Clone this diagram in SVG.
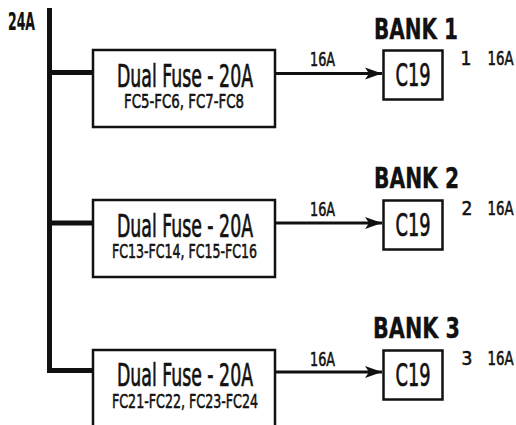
<svg xmlns="http://www.w3.org/2000/svg" width="516" height="425" viewBox="0 0 516 425">
<defs>
<style>
text{font-family:"Liberation Sans Narrow","DejaVu Sans Condensed","Liberation Sans",Arial,sans-serif;fill:#111;stroke:#111;stroke-width:0.55}
.box{fill:#fff;stroke:#111;stroke-width:2.5}
.t1{font-size:32px;text-anchor:middle;stroke-width:0.7}
.t2{font-size:20px;text-anchor:middle}
.bank{font-size:29px;font-weight:bold;stroke-width:0.3}
.c19{font-size:32px;stroke-width:0.7}
.lbl{font-size:19px}
.end{text-anchor:end}
.src{font-size:24px;font-weight:bold;stroke-width:0.2}
.bus{fill:none;stroke:#111;stroke-width:5;stroke-linejoin:miter}
.arr{fill:none;stroke:#111;stroke-width:3}
</style>
<marker id="ah" markerUnits="userSpaceOnUse" markerWidth="20" markerHeight="16" refX="17" refY="7" orient="auto">
<path d="M0,1 L17,7 L0,13 L4,7 Z" fill="#111"/>
</marker>
</defs>
<rect width="516" height="425" fill="#fff"/>
<g id="connectors">
<path class="bus" d="M49.5,8 V370.5 H93"/>
<path class="bus" d="M49.5,72.5 H93"/>
<path class="bus" d="M49.5,223 H93"/>
<path class="arr" d="M275,73.5 H382" marker-end="url(#ah)"/>
<path class="arr" d="M275,223 H382" marker-end="url(#ah)"/>
<path class="arr" d="M275,372 H382" marker-end="url(#ah)"/>
<text class="lbl" x="310" y="65.5" textLength="25" lengthAdjust="spacingAndGlyphs">16A</text>
<text class="lbl" x="310" y="216" textLength="25" lengthAdjust="spacingAndGlyphs">16A</text>
<text class="lbl" x="310" y="365.5" textLength="25" lengthAdjust="spacingAndGlyphs">16A</text>
</g>
<g id="source">
<text class="src" x="8" y="30" textLength="27" lengthAdjust="spacingAndGlyphs">24A</text>
</g>
<g id="fuse1">
<rect class="box" x="93" y="50" width="182" height="77"/>
<text class="t1" x="185" y="86.5" textLength="136" lengthAdjust="spacingAndGlyphs">Dual Fuse - 20A</text>
<text class="t2" x="184" y="107.5" textLength="120" lengthAdjust="spacingAndGlyphs">FC5-FC6, FC7-FC8</text>
</g>
<g id="fuse2">
<rect class="box" x="93" y="200" width="182" height="77"/>
<text class="t1" x="185" y="236.5" textLength="136" lengthAdjust="spacingAndGlyphs">Dual Fuse - 20A</text>
<text class="t2" x="184.5" y="257.5" textLength="145" lengthAdjust="spacingAndGlyphs">FC13-FC14, FC15-FC16</text>
</g>
<g id="fuse3">
<rect class="box" x="93" y="350" width="182" height="80"/>
<text class="t1" x="185" y="386" textLength="136" lengthAdjust="spacingAndGlyphs">Dual Fuse - 20A</text>
<text class="t2" x="185" y="407.5" textLength="146" lengthAdjust="spacingAndGlyphs">FC21-FC22, FC23-FC24</text>
</g>
<g id="bank1">
<text class="bank" x="374" y="39" textLength="84" lengthAdjust="spacingAndGlyphs">BANK 1</text>
<rect class="box" x="383.5" y="50.5" width="59" height="49"/>
<text class="c19" x="395.5" y="85.5" textLength="35" lengthAdjust="spacingAndGlyphs">C19</text>
<text class="lbl" x="460.5" y="65">1</text>
<text class="lbl end" x="513.5" y="65" textLength="26" lengthAdjust="spacingAndGlyphs">16A</text>
</g>
<g id="bank2">
<text class="bank" x="374" y="188" textLength="85" lengthAdjust="spacingAndGlyphs">BANK 2</text>
<rect class="box" x="383.5" y="200.5" width="59" height="49"/>
<text class="c19" x="395.5" y="236" textLength="35" lengthAdjust="spacingAndGlyphs">C19</text>
<text class="lbl" x="461.5" y="215">2</text>
<text class="lbl end" x="513.5" y="215" textLength="26" lengthAdjust="spacingAndGlyphs">16A</text>
</g>
<g id="bank3">
<text class="bank" x="373" y="338" textLength="87" lengthAdjust="spacingAndGlyphs">BANK 3</text>
<rect class="box" x="383.5" y="350.5" width="59" height="49"/>
<text class="c19" x="395.5" y="385.5" textLength="35" lengthAdjust="spacingAndGlyphs">C19</text>
<text class="lbl" x="461.5" y="365">3</text>
<text class="lbl end" x="513.5" y="365" textLength="26" lengthAdjust="spacingAndGlyphs">16A</text>
</g>
</svg>
